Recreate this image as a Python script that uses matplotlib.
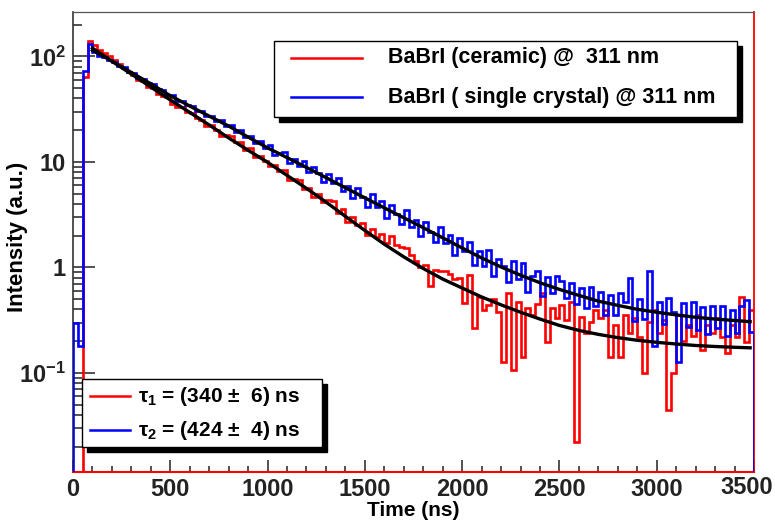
import numpy as np
import matplotlib
matplotlib.use("Agg")
import matplotlib.pyplot as plt
from matplotlib.patches import Rectangle
from matplotlib.lines import Line2D
from matplotlib.ticker import MultipleLocator, LogLocator, NullFormatter

plt.rcParams['font.family'] = ['Liberation Sans', 'DejaVu Sans']
plt.rcParams['font.weight'] = 'bold'
plt.rcParams['mathtext.fontset'] = 'custom'
plt.rcParams['mathtext.rm'] = 'Liberation Sans:bold'
plt.rcParams['mathtext.it'] = 'Liberation Sans:bold'
plt.rcParams['mathtext.bf'] = 'Liberation Sans:bold'

############################ data ############################
bin_width = 25  # ns

# BaBrI ceramic, 25 ns bins from 0 ns
red_counts = [0, 0, 64, 140,
              128, 115, 107, 101, 93, 85, 78, 70.5, 67.1, 59.8, 58.3, 51.4, 50.1, 44.2, 42.1, 41.1,
              35.7, 33.3, 33.3, 29.6, 29.2, 26.1, 25.1, 21.9, 22.3, 19.9, 17.7, 18.1, 17.6, 15.3, 15.6, 13.1,
              13.5, 11.2, 11.5, 10.3,
              9.12, 9.33, 8.13, 8.32, 6.73, 6.87, 6.70, 5.56, 5.68, 4.69, 5.00, 4.13, 4.40, 4.26, 3.28, 3.56,
              2.68, 2.98, 2.52, 2.61, 2.01, 2.30, 1.95, 2.07, 1.72, 1.97, 1.64, 1.57, 1.53, 1.32, 1.15, 1.01,
              1.06, 0.664, 0.948, 0.916, 0.931, 0.867, 0.771, 0.787,
              0.461, 0.851, 0.269, 0.525, 0.398, 0.437, 0.501, 0.380, 0.126, 0.575, 0.107, 0.468, 0.141, 0.417,
              0.355, 0.447, 0.575, 0.195, 0.417, 0.331,
              0.437, 0.316, 0.468, 0.022, 0.339, 0.240, 0.302, 0.398, 0.331, 0.398, 0.141, 0.282, 0.141, 0.355,
              0.240, 0.331, 0.219, 0.100, 0.302, 0.398,
              0.240, 0.316, 0.0447, 0.100, 0.355, 0.200, 0.282, 0.224, 0.355, 0.166, 0.282, 0.240, 0.331, 0.219,
              0.155, 0.282, 0.219, 0.525, 0.195, 0.398]

# BaBrI single crystal, same bins
blue_counts = [0.30, 0.18, 73, 130,
               110, 102, 99.8, 91.8, 89.5, 80.4, 79.1, 71.0, 70.3, 62.8, 61.8, 56.1, 55.1, 48.8, 47.9, 42.9,
               42.8, 38.1, 37.8, 34.4, 34.1, 30.5, 30.4, 27.4, 27.4, 24.4, 24.9, 21.7, 22.2, 19.1, 19.9, 17.1,
               17.5, 15.0, 15.7, 13.7,
               14.6, 11.7, 12.2, 12.4, 9.75, 10.6, 9.16, 10.2, 8.05, 8.95, 7.91, 6.52, 7.76, 6.25, 7.10, 5.33,
               5.93, 4.56, 5.69, 4.70, 3.78, 4.94, 3.72, 4.24, 2.97, 3.89, 3.21, 2.59, 3.47, 2.43, 2.84, 1.99,
               2.72, 2.19, 1.73, 2.42, 1.70, 2.02, 1.32, 1.89,
               1.42, 1.73, 1.06, 1.42, 1.04, 1.47, 0.826, 1.19, 1.04, 0.735, 1.14, 0.771, 1.09, 0.589,
               0.836, 0.920, 0.533, 0.815, 0.569, 0.832,
               0.750, 0.514, 0.718, 0.449, 0.643, 0.411, 0.647, 0.434, 0.582, 0.351, 0.543, 0.351, 0.569, 0.474,
               0.794, 0.308, 0.500, 0.325, 0.92, 0.18,
               0.469, 0.292, 0.512, 0.374, 0.127, 0.459, 0.273, 0.469, 0.255, 0.418, 0.233, 0.429, 0.268, 0.432,
               0.224, 0.396, 0.237, 0.428, 0.488, 0.243]

# fitted curves
fit_time = [100, 200, 300, 400, 500, 600, 700, 800, 900, 1000, 1100, 1200, 1300, 1400, 1500, 1600, 1700,
            1800, 1900, 2000, 2100, 2200, 2300, 2400, 2500, 2600, 2700, 2800, 2900, 3000, 3100, 3200, 3300,
            3400, 3480]
red_fit = [120, 90.2, 68.1, 51.3, 38.7, 29.5, 22.4, 16.9, 12.9, 9.93, 7.46, 5.62, 4.17, 3.05, 2.24, 1.66,
           1.26, 0.977, 0.776, 0.638, 0.525, 0.442, 0.376, 0.324, 0.282, 0.253, 0.232, 0.216, 0.204, 0.195,
           0.188, 0.182, 0.178, 0.175, 0.173]
blue_fit = [114.8, 90.2, 70.5, 55.0, 42.5, 33.9, 27.2, 21.9, 17.2, 13.6, 11.0, 8.87, 7.11, 5.69, 4.57,
            3.67, 2.96, 2.38, 1.91, 1.53, 1.23, 1.01, 0.845, 0.716, 0.619, 0.543, 0.479, 0.437, 0.401, 0.376,
            0.355, 0.337, 0.324, 0.314, 0.306]

legend_top = ['BaBrI (ceramic) @  311 nm', 'BaBrI ( single crystal) @ 311 nm']
legend_bottom = [r'τ$_1$ = (340 ±  6) ns', r'τ$_2$ = (424 ±  4) ns']
xtick_vals = [0, 500, 1000, 1500, 2000, 2500, 3000, 3500]
xtick_labels = ['0', '500', '1000', '1500', '2000', '2500', '3000', '3500']
ytick_vals = [0.1, 1, 10, 100]
ytick_labels = [r'$10^{-1}$', '1', '10', r'$10^{2}$']

##############################################################
W, H = 775, 523
fig = plt.figure(figsize=(W / 100, H / 100), dpi=100)

def px(x, y):
    # pixel position (from top-left) -> figure fraction
    return x / W, 1 - y / H

ax = fig.add_axes([73 / W, 1 - 472 / H, 681 / W, 460 / H])

floor = 1e-3
edges = np.arange(len(red_counts) + 1) * bin_width
ax.stairs(np.clip(red_counts, floor, None), edges, baseline=floor, color='#ff0000', lw=1.9, zorder=2)
ax.stairs(np.clip(blue_counts, floor, None), edges, baseline=floor, color='#0000ff', lw=1.9, zorder=3)
ax.plot(fit_time, red_fit, color='black', lw=2.4, zorder=4)
ax.plot(fit_time, blue_fit, color='black', lw=2.4, zorder=4)

ax.set_yscale('log')
ax.set_xlim(0, 3500)
ax.set_ylim(0.0115, 264)

# last x label is drawn by hand so it stays inside the canvas
ax.set_xticks(xtick_vals, labels=xtick_labels[:-1] + [''])
ax.xaxis.set_minor_locator(MultipleLocator(100))
ax.set_yticks(ytick_vals, labels=ytick_labels)
ax.yaxis.set_minor_locator(LogLocator(base=10, subs=np.arange(2, 10)))
ax.yaxis.set_minor_formatter(NullFormatter())

ax.tick_params(axis='both', which='both', direction='in', top=False, right=False,
               colors='#222222', width=1.1, labelsize=17)
ax.tick_params(axis='y', which='major', length=16, pad=5)
ax.tick_params(axis='y', which='minor', length=6.5)
ax.tick_params(axis='x', which='major', length=8.5, pad=4)
ax.tick_params(axis='x', which='minor', length=4)
fig.text(*px(747, 488), xtick_labels[-1], ha='center', va='center', fontsize=17, color='#222222')

ax.spines['left'].set_color('#333333')
ax.spines['left'].set_linewidth(1.2)
ax.spines['top'].set_color('#555555')
ax.spines['top'].set_linewidth(0.9)
ax.spines['bottom'].set_color('#ff0000')
ax.spines['bottom'].set_linewidth(1.5)
ax.spines['right'].set_color('#ff0000')
ax.spines['right'].set_linewidth(1.3)

# axis titles (ROOT style placement)
fig.text(*px(18, 237), 'Intensity (a.u.)', rotation=90, ha='center', va='center', fontsize=16)
fig.text(*px(413, 511), 'Time (ns)', ha='center', va='center', fontsize=15)

# legend boxes with drop shadow
def legend_box(x0, y0, x1, y1, off=5):
    sx, sy = px(x0 + off, y1 + off)
    fig.add_artist(Rectangle((sx, sy), (x1 - x0) / W, (y1 - y0) / H, transform=fig.transFigure,
                             facecolor='black', edgecolor='black', zorder=5))
    bx, by = px(x0, y1)
    fig.add_artist(Rectangle((bx, by), (x1 - x0) / W, (y1 - y0) / H, transform=fig.transFigure,
                             facecolor='white', edgecolor='black', lw=1.0, zorder=6))

def legend_row(xl0, xl1, xt, y, color, label, fs):
    x0, yy = px(xl0, y)
    x1, _ = px(xl1, y)
    fig.add_artist(Line2D([x0, x1], [yy, yy], transform=fig.transFigure, color=color, lw=1.8, zorder=7))
    fig.text(*px(xt, y), label, ha='left', va='center', fontsize=fs, zorder=8)

legend_box(274, 41, 737, 117)
legend_row(291, 362, 388, 58, '#ff0000', legend_top[0], 15.5)
legend_row(291, 362, 388, 97, '#0000ff', legend_top[1], 15.5)

legend_box(82, 379, 322, 447)
legend_row(90, 130, 138, 396, '#ff0000', legend_bottom[0], 15)
legend_row(90, 130, 138, 430, '#0000ff', legend_bottom[1], 15)

fig.savefig('out.png', dpi=100)
